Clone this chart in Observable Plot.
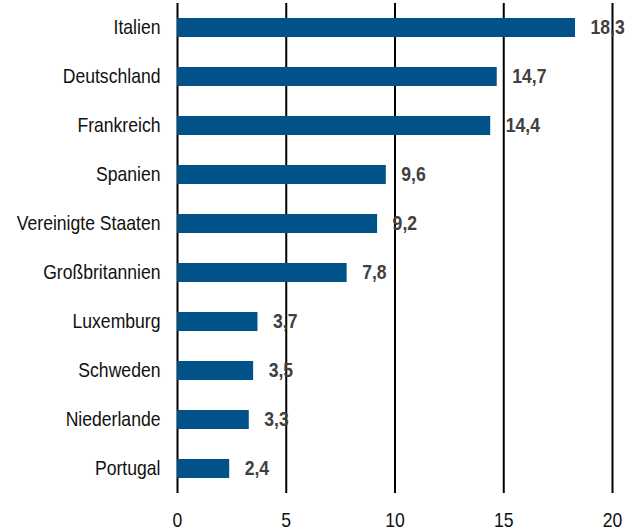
<!DOCTYPE html>
<html><head><meta charset="utf-8">
<script src="https://cdn.jsdelivr.net/npm/d3@7"></script>
<script src="https://cdn.jsdelivr.net/npm/@observablehq/plot@0.6"></script>
<style>
body{margin:0;background:#fff;}
</style>
</head><body>
<div id="chart"></div>
<script>
const countries = ["Italien","Deutschland","Frankreich","Spanien","Vereinigte Staaten","Großbritannien","Luxemburg","Schweden","Niederlande","Portugal"];
const values = [18.3,14.7,14.4,9.6,9.2,7.8,3.7,3.5,3.3,2.4];
const xTicks = [0,5,10,15,20];
const data = countries.map((c,i)=>({country:c, value:values[i]}));
const fmt = v => v.toFixed(1).replace(".", ",");
const font = "'Liberation Sans Narrow','Arial Narrow','Liberation Sans',Arial,sans-serif";
const chart = Plot.plot({
  width: 642, height: 532,
  marginLeft: 177, marginRight: 30, marginTop: 3, marginBottom: 39,
  style: {fontFamily: font, background: "#fff"},
  x: {domain: [0,20], ticks: xTicks, label: null, tickSize: 0, tickPadding: 19, tickFormat: d=>d},
  y: {domain: countries, label: null, tickSize: 0, tickPadding: 17, paddingInner: 0.61, paddingOuter: 0.305},
  marks: [
    Plot.ruleX(xTicks, {stroke: "#000", strokeWidth: 2}),
    Plot.barX(data, {x: "value", y: "country", fill: "#005288"}),
    Plot.text(data, {x: "value", y: "country", text: d=>fmt(d.value), dx: 15, textAnchor: "start", fill: "#404040", fontWeight: "bold", fontSize: 20, className: "vlab"})
  ]
});
function squeeze(t, sx){
  const tr = t.getAttribute("transform")||"";
  t.setAttribute("transform", `${tr} scale(${sx},1)`);
}
chart.querySelectorAll("[aria-label='y-axis tick label'] text").forEach(t=>{t.setAttribute("font-size","20");t.setAttribute("fill","#111");squeeze(t,0.88);});
chart.querySelectorAll("[aria-label='x-axis tick label'] text").forEach(t=>{t.setAttribute("font-size","20");t.setAttribute("fill","#111");squeeze(t,0.88);});
chart.querySelectorAll(".vlab text").forEach(t=>squeeze(t,0.88));
document.getElementById("chart").appendChild(chart);
</script>
</body></html>
